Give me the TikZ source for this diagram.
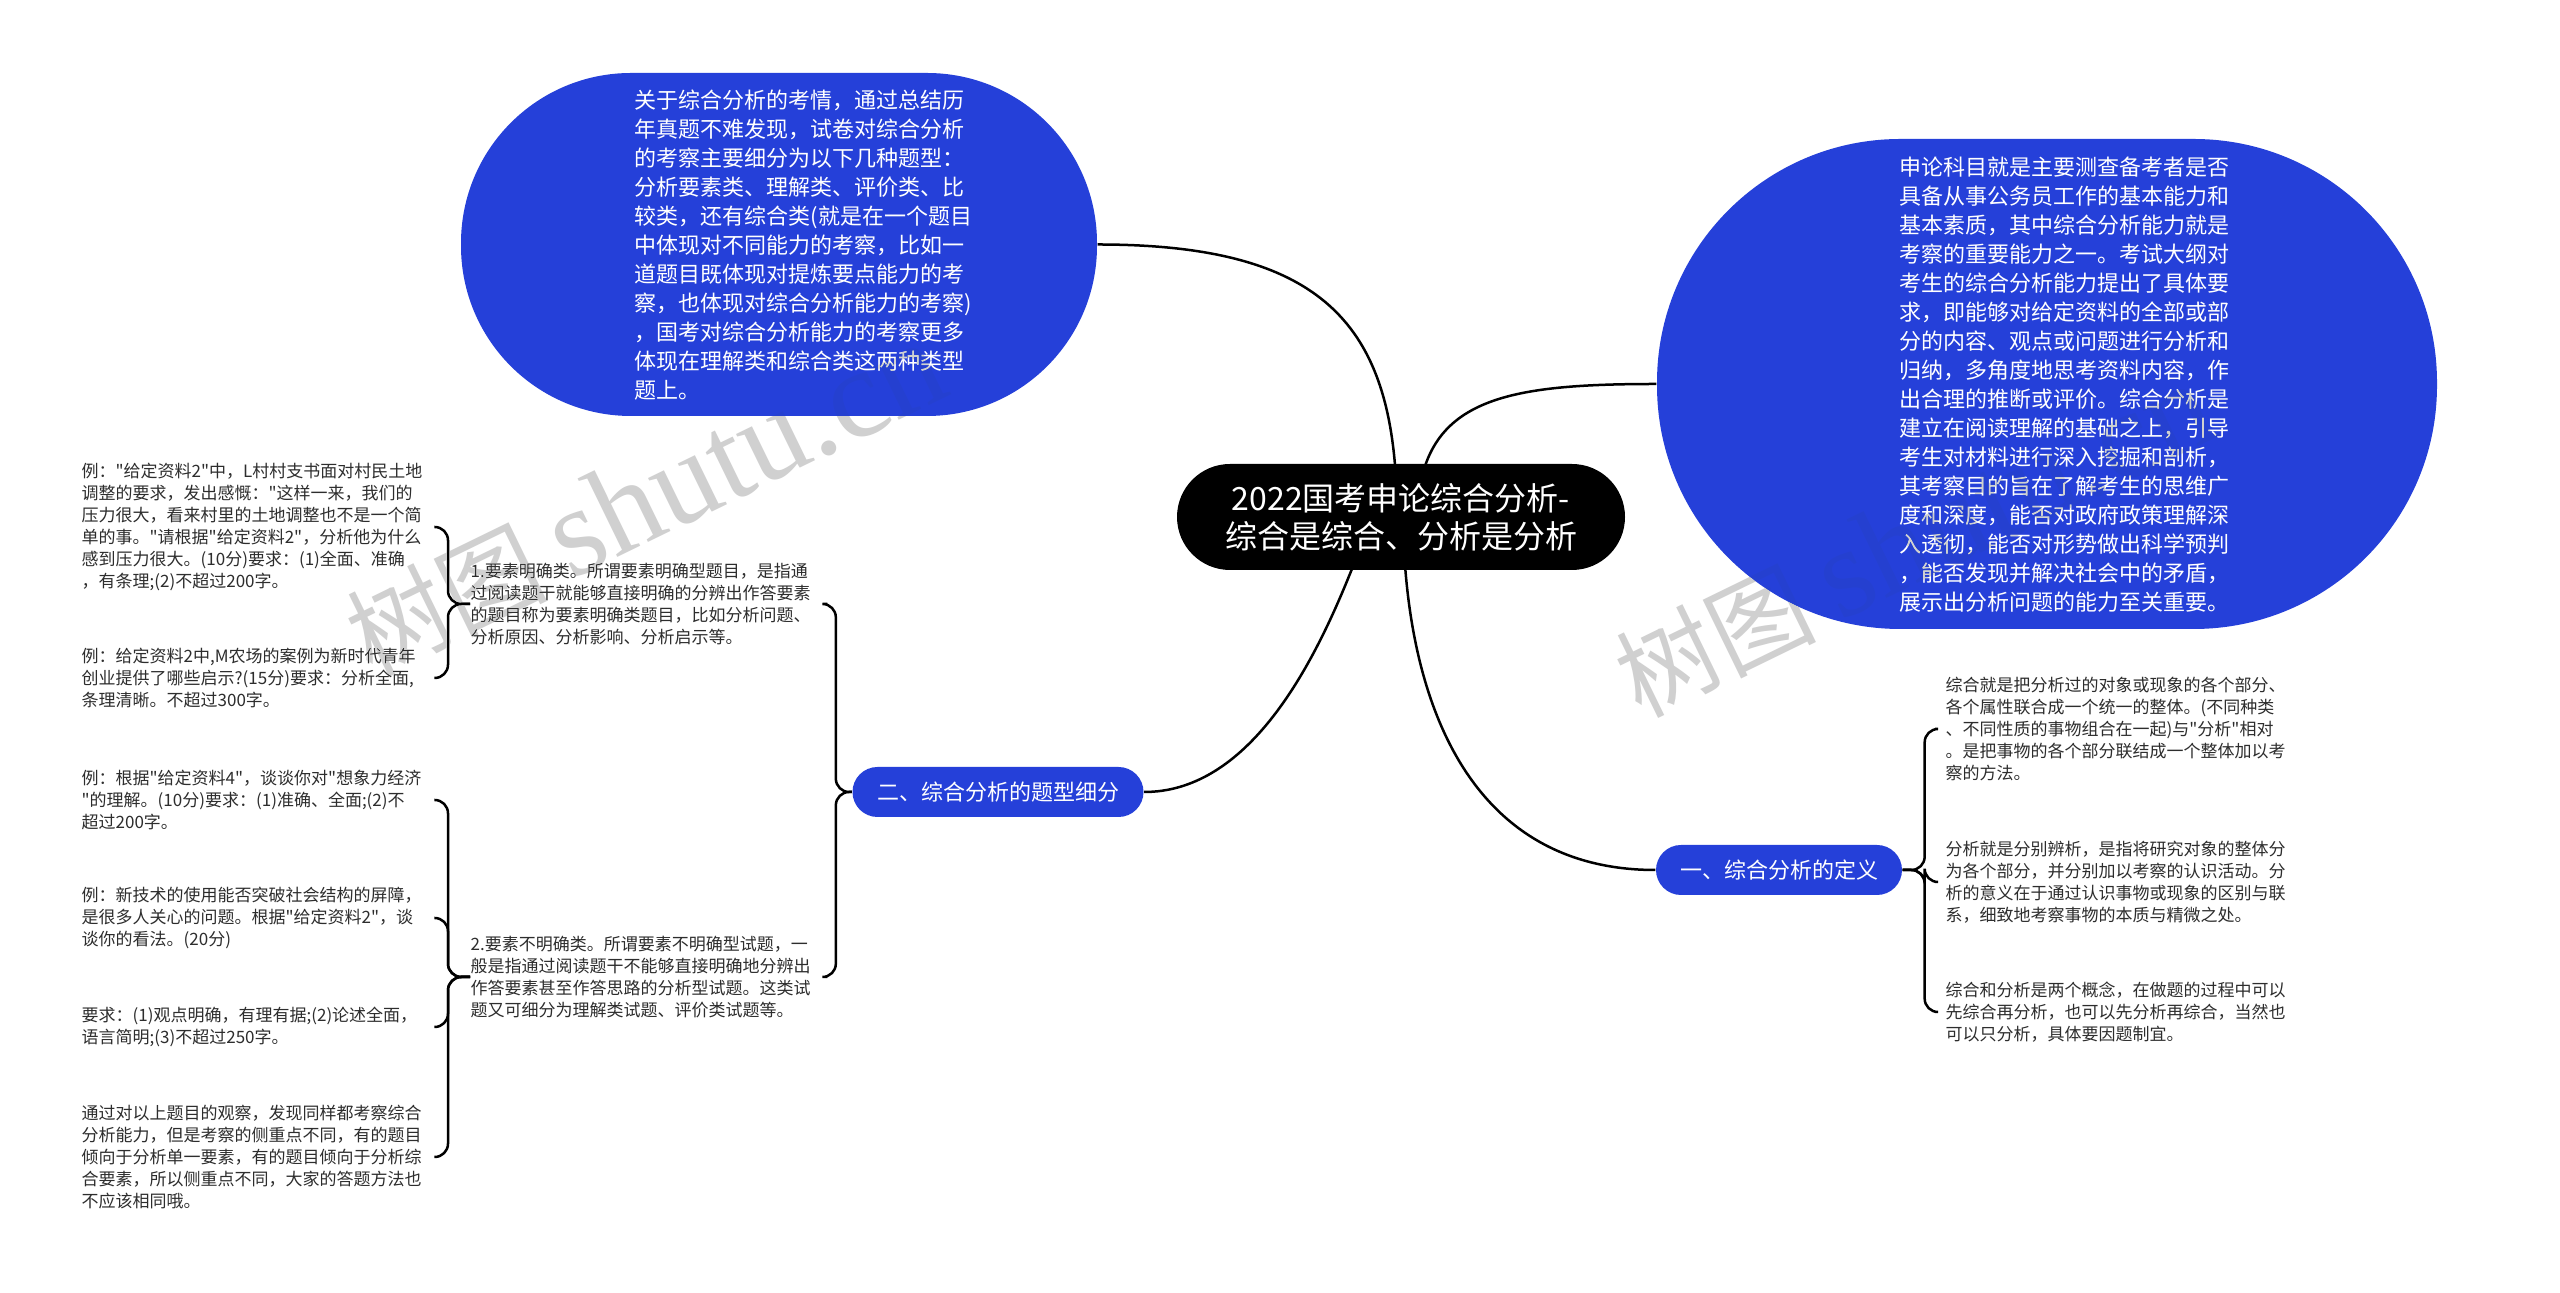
\documentclass[tikz,border=0pt]{standalone}
\usepackage{fontspec}
\setmainfont{Noto Sans CJK SC}[Ligatures=TeXOff]
\newfontfamily\wmfont{Liberation Serif}
\usetikzlibrary{calc}
\definecolor{nodeblue}{RGB}{37,64,217}
\definecolor{txtgray}{RGB}{45,45,45}
\definecolor{wmgray}{RGB}{208,208,208}
\pgfdeclarelayer{bg}
\pgfsetlayers{bg,main}
\begin{document}
\begin{tikzpicture}[x=0.3pt,y=-0.3pt,
  conn/.style={line width=0.75pt,draw=black},
  hook/.style={conn,rounded corners=4pt},
  blob/.style={fill=nodeblue,draw=none,inner sep=0pt},
  bigtxt/.style={text=white,align=left,inner sep=0pt,font=\fontsize{6.6}{8.7}\selectfont},
  branch/.style={fill=nodeblue,text=white,minimum height=15pt,rounded corners=7.5pt,inner sep=0pt,font=\fontsize{6.6}{8}\selectfont},
  small/.style={text=txtgray,text width=102pt,align=left,inner sep=0pt,anchor=west,font=\fontsize{5.1}{6.6}\selectfont},
  wm/.style={text=wmgray,inner sep=0pt,font=\fontsize{30}{30}\selectfont}]
\useasboundingbox (0,0) rectangle (2560,1293);

% root
\node[fill=black,text=white,rounded corners=15.9pt,minimum width=134.4pt,minimum height=31.8pt,
  align=center,inner sep=0pt,font=\fontsize{9.6}{11.4}\selectfont] (root) at (1401,517)
  {2022国考申论综合分析-\\综合是综合、分析是分析};

% top-left ellipse
\node[blob,minimum width=190.8pt,minimum height=102.9pt,rounded corners=51pt] (tl) at (779,244.5) {};
\node[bigtxt,anchor=west] (tltext) at (634,245) {关于综合分析的考情，通过总结历\\
年真题不难发现，试卷对综合分析\\
的考察主要细分为以下几种题型：\\
分析要素类、理解类、评价类、比\\
较类，还有综合类(就是在一个题目\\
中体现对不同能力的考察，比如一\\
道题目既体现对提炼要点能力的考\\
察，也体现对综合分析能力的考察)\\
，国考对综合分析能力的考察更多\\
体现在理解类和综合类这两种类型\\
题上。};

% right ellipse
\node[blob,minimum width=234pt,minimum height=147pt,rounded corners=73pt] (re) at (2047,384) {};
\node[bigtxt,anchor=west] (retext) at (1899,385) {申论科目就是主要测查备考者是否\\
具备从事公务员工作的基本能力和\\
基本素质，其中综合分析能力就是\\
考察的重要能力之一。考试大纲对\\
考生的综合分析能力提出了具体要\\
求，即能够对给定资料的全部或部\\
分的内容、观点或问题进行分析和\\
归纳，多角度地思考资料内容，作\\
出合理的推断或评价。综合分析是\\
建立在阅读理解的基础之上，引导\\
考生对材料进行深入挖掘和剖析，\\
其考察目的旨在了解考生的思维广\\
度和深度，能否对政府政策理解深\\
入透彻，能否对形势做出科学预判\\
，能否发现并解决社会中的矛盾，\\
展示出分析问题的能力至关重要。};

% branches
\node[branch,minimum width=87.3pt] (b2) at (998,792) {二、综合分析的题型细分};
\node[branch,minimum width=73.8pt] (b1) at (1779,870) {一、综合分析的定义};

% left children
\node[small] (c1) at (470,604) {1.要素明确类。所谓要素明确型题目，是指通\\
过阅读题干就能够直接明确的分辨出作答要素\\
的题目称为要素明确类题目，比如分析问题、\\
分析原因、分析影响、分析启示等。};
\node[small] (c2) at (470,977) {2.要素不明确类。所谓要素不明确型试题，一\\
般是指通过阅读题干不能够直接明确地分辨出\\
作答要素甚至作答思路的分析型试题。这类试\\
题又可细分为理解类试题、评价类试题等。};

% grandchildren
\node[small] (g1a) at (81,527) {例："给定资料2"中，L村村支书面对村民土地\\
调整的要求，发出感慨："这样一来，我们的\\
压力很大，看来村里的土地调整也不是一个简\\
单的事。"请根据"给定资料2"，分析他为什么\\
感到压力很大。(10分)要求：(1)全面、准确\\
，有条理;(2)不超过200字。};
\node[small] (g1b) at (81,678) {例：给定资料2中,M农场的案例为新时代青年\\
创业提供了哪些启示?(15分)要求：分析全面,\\
条理清晰。不超过300字。};
\node[small] (g2a) at (81,800) {例：根据"给定资料4"，谈谈你对"想象力经济\\
"的理解。(10分)要求：(1)准确、全面;(2)不\\
超过200字。};
\node[small] (g2b) at (81,918) {例：新技术的使用能否突破社会结构的屏障，\\
是很多人关心的问题。根据"给定资料2"，谈\\
谈你的看法。(20分)};
\node[small] (g2c) at (81,1027) {要求：(1)观点明确，有理有据;(2)论述全面，\\
语言简明;(3)不超过250字。};
\node[small] (g2d) at (81,1157) {通过对以上题目的观察，发现同样都考察综合\\
分析能力，但是考察的侧重点不同，有的题目\\
倾向于分析单一要素，有的题目倾向于分析综\\
合要素，所以侧重点不同，大家的答题方法也\\
不应该相同哦。};

% right children
\node[small] (r1) at (1945,729) {综合就是把分析过的对象或现象的各个部分、\\
各个属性联合成一个统一的整体。(不同种类\\
、不同性质的事物组合在一起)与"分析"相对\\
。是把事物的各个部分联结成一个整体加以考\\
察的方法。};
\node[small] (r2) at (1945,882) {分析就是分别辨析，是指将研究对象的整体分\\
为各个部分，并分别加以考察的认识活动。分\\
析的意义在于通过认识事物或现象的区别与联\\
系，细致地考察事物的本质与精微之处。};
\node[small] (r3) at (1945,1012) {综合和分析是两个概念，在做题的过程中可以\\
先综合再分析，也可以先分析再综合，当然也\\
可以只分析，具体要因题制宜。};

\begin{pgfonlayer}{bg}
\fill[white] (0,0) rectangle (2560,1293);
% main curves
\draw[conn] (tl.east) .. controls ($(tl.east)+(233,0)$) and ($(root.center)+(-4,-187)$) .. ($(root.center)+(-4,0)$);
\draw[conn] (re.west) .. controls ($(re.west)+(-157,0)$) and ($(root.center)+(19,-117)$) .. ($(root.center)+(16,0)$);
\draw[conn] (b2.east) .. controls ($(b2.east)+(197,0)$) and ($(root.center)+(-6,-173)$) .. ($(root.center)+(-6,0)$);
\draw[conn] (b1.west) .. controls ($(b1.west)+(-187,0)$) and ($(root.center)+(4,183)$) .. ($(root.center)+(2,0)$);
% brackets
\foreach \c in {c1,c2}
  \draw[hook] (b2.west) -- ++(-16,0) |- ($(\c.east)+(16,0)$);
\foreach \c in {g1a,g1b}
  \draw[hook] (c1.west) -- ++(-22,0) |- ($(\c.east)+(12,0)$);
\foreach \c in {g2a,g2b,g2c,g2d}
  \draw[hook] (c2.west) -- ++(-22,0) |- ($(\c.east)+(12,0)$);
\foreach \c in {r1,r2,r3}
  \draw[hook] (b1.east) -- ++(22,0) |- ($(\c.west)+(-10,0)$);
\end{pgfonlayer}

% watermarks
\begin{scope}[blend mode=darken]
\node[wm,rotate=26] (wm1) at (645,500) {树图 {\wmfont\fontsize{38}{38}\selectfont shutu.cn}};
\node[wm,rotate=26] (wm2) at (1914,541) {树图 {\wmfont\fontsize{38}{38}\selectfont shutu.cn}};
\end{scope}
\end{tikzpicture}
\end{document}
